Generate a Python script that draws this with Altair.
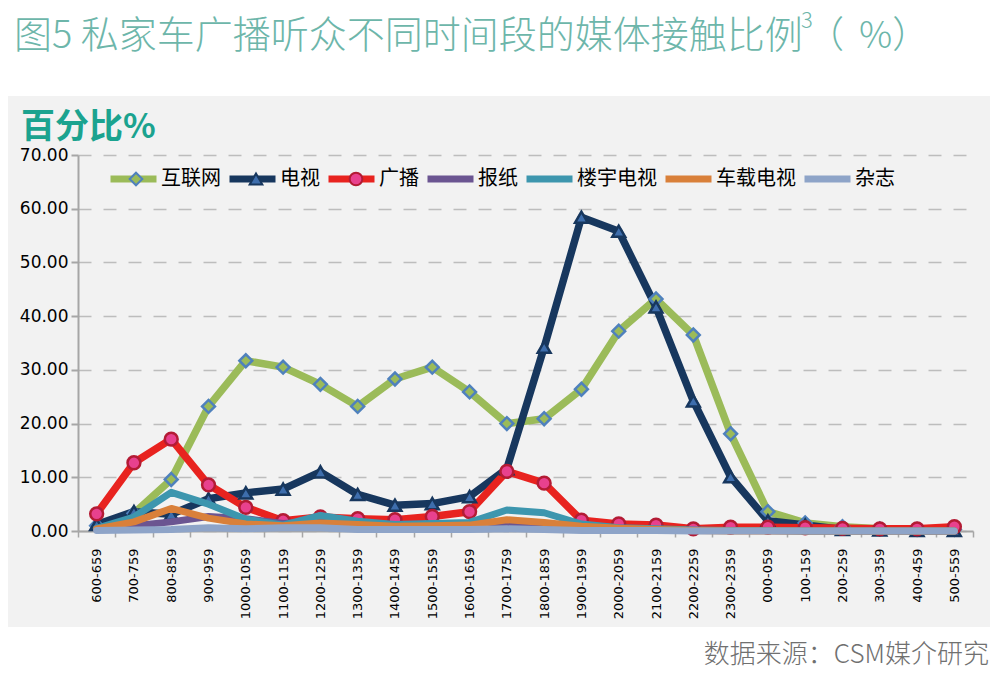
import altair as alt
import pandas as pd

cats = ["600-659", "700-759", "800-859", "900-959", "1000-1059", "1100-1159",
        "1200-1259", "1300-1359", "1400-1459", "1500-1559", "1600-1659",
        "1700-1759", "1800-1859", "1900-1959", "2000-2059", "2100-2159",
        "2200-2259", "2300-2359", "000-059", "100-159", "200-259", "300-359",
        "400-459", "500-559"]

series_names = ["互联网", "电视", "广播", "报纸", "楼宇电视", "车载电视", "杂志"]

internet = [1.0, 3.3, 9.6, 23.2, 31.7, 30.5, 27.3, 23.2, 28.3, 30.5, 25.9, 20.0,
            20.9, 26.4, 37.2, 43.2, 36.5, 18.1, 3.6, 1.5, 0.8, 0.4, 0.3, 0.3]
tv = [1.2, 3.6, 3.1, 6.0, 7.1, 7.8, 11.0, 6.8, 4.8, 5.1, 6.4, 11.6,
      34.2, 58.4, 55.8, 41.7, 24.2, 10.1, 1.9, 1.1, 0.3, 0.2, 0.1, 0.1]
radio = [3.2, 12.7, 17.1, 8.6, 4.4, 1.9, 2.6, 2.3, 2.1, 2.7, 3.6, 11.1,
         8.9, 2.0, 1.3, 1.1, 0.4, 0.7, 0.7, 0.6, 0.5, 0.4, 0.4, 0.8]
newspaper = [0.3, 1.0, 1.7, 2.7, 2.3, 1.4, 1.9, 1.3, 0.9, 0.9, 1.0, 1.3,
             1.0, 0.5, 0.3, 0.2, 0.1, 0.1, 0.1, 0.0, 0.0, 0.0, 0.0, 0.0]
building_tv = [0.5, 2.6, 7.2, 5.0, 2.2, 1.1, 2.9, 1.8, 1.2, 1.4, 1.6, 3.9,
               3.4, 1.3, 0.6, 0.4, 0.2, 0.1, 0.1, 0.0, 0.0, 0.0, 0.0, 0.0]
car_tv = [0.4, 1.7, 4.2, 2.4, 1.3, 1.0, 1.5, 1.2, 0.9, 1.0, 1.1, 2.1,
          1.6, 0.9, 0.5, 0.3, 0.1, 0.0, 0.0, 0.0, 0.0, 0.0, 0.0, 0.0]
magazine = [0.1, 0.2, 0.3, 0.6, 0.4, 0.6, 0.6, 0.3, 0.3, 0.3, 0.3, 0.4,
            0.3, 0.1, 0.1, 0.1, 0.0, 0.0, 0.0, 0.0, 0.0, 0.0, 0.0, 0.0]

line_colors = ["#9BBB59", "#17375E", "#E8231F", "#6B5591", "#3D96AE", "#D9803A", "#8EA4C8"]
marker_shapes = ["diamond", "triangle-up", "circle", "circle", "circle", "circle", "circle"]
marker_fills = ["#9BBB59", "#3E6EAD", "#E8418E", "transparent", "transparent", "transparent", "transparent"]
marker_strokes = ["#4F81BD", "#17375E", "#B31B34", "transparent", "transparent", "transparent", "transparent"]

title_main = "图5 私家车广播听众不同时间段的媒体接触比例"
title_sup = "3"
title_paren_open = "（"
title_rest = "%）"
ylabel_text = "百分比%"
source_text = "数据来源：CSM媒介研究"
y_ticks = [0, 10, 20, 30, 40, 50, 60, 70]

ZW = "\u200b"
all_values = [internet, tv, radio, newspaper, building_tv, car_tv, magazine]
rows = []
for name, vals in zip(series_names, all_values):
    for c, v in zip(cats, vals):
        rows.append({"time": c, "value": v, "series": name, "mk": name + ZW})
df = pd.DataFrame(rows)

W, H = 895, 376

x_enc = alt.X("time:N", sort=cats,
              scale=alt.Scale(type="band", paddingInner=0, paddingOuter=0),
              axis=alt.Axis(title=None, labelAngle=-90, tickBand="extent",
                            labelFont="DejaVu Sans", labelFontSize=13, labelColor="#000000",
                            domainColor="#A6A6A6", domainWidth=2, tickColor="#A6A6A6",
                            tickWidth=1.5, tickSize=6, labelPadding=11, grid=False))
y_enc = alt.Y("value:Q", scale=alt.Scale(domain=[0, 70], nice=False, zero=True),
              axis=alt.Axis(title=None, values=y_ticks, format=".2f",
                            labelFont="DejaVu Sans", labelFontSize=17, labelColor="#000000",
                            domainColor="#A6A6A6", domainWidth=2, tickColor="#A6A6A6",
                            tickWidth=2, tickSize=7, labelPadding=3,
                            grid=True, gridColor="#BDBDBD", gridDash=[13, 12], gridWidth=1.5))

color_legend = alt.Legend(title=None, orient="none", legendX=29, legendY=12,
                          direction="horizontal", symbolType="stroke",
                          symbolSize=2116, symbolStrokeWidth=7, clipHeight=24,
                          labelFont="Noto Sans CJK SC", labelFontSize=20,
                          labelColor="#000000", labelOffset=1, columnPadding=5,
                          padding=0, labelLimit=300, zindex=1)
color_enc = alt.Color("series:N", scale=alt.Scale(domain=series_names, range=line_colors),
                      legend=color_legend)

pdomain = [n + ZW for n in series_names]
point_legend = alt.Legend(title=None, orient="none", legendX=29, legendY=12,
                          direction="horizontal", symbolSize=160, symbolStrokeWidth=2,
                          clipHeight=24, symbolOffset=19,
                          labelFont="Noto Sans CJK SC", labelFontSize=20,
                          labelOpacity=0, labelOffset=16, columnPadding=5,
                          padding=0, labelLimit=300, zindex=2)

base = alt.Chart(df)

lines_a = base.transform_filter(
    alt.FieldOneOfPredicate(field="series", oneOf=series_names[:3])
).mark_line(strokeWidth=7.5, strokeJoin="round", strokeCap="round").encode(
    x=x_enc, y=y_enc, color=color_enc)

points = base.transform_filter(
    alt.FieldOneOfPredicate(field="series", oneOf=series_names[:3])
).mark_point(filled=True, size=165, strokeWidth=2.5, opacity=1).encode(
    x=x_enc, y=y_enc,
    shape=alt.Shape("mk:N", scale=alt.Scale(domain=pdomain, range=marker_shapes), legend=point_legend),
    fill=alt.Fill("mk:N", scale=alt.Scale(domain=pdomain, range=marker_fills), legend=point_legend),
    stroke=alt.Stroke("mk:N", scale=alt.Scale(domain=pdomain, range=marker_strokes), legend=point_legend))

lines_b = base.transform_filter(
    alt.FieldOneOfPredicate(field="series", oneOf=series_names[3:])
).mark_line(strokeWidth=7, strokeJoin="round", strokeCap="round").encode(
    x=x_enc, y=y_enc, color=color_enc)

one = pd.DataFrame({"a": [0]})
white_top = alt.Chart(one).mark_rect(color="#FFFFFF").encode(
    x=alt.value(-70), x2=alt.value(W + 17), y=alt.value(-147), y2=alt.value(-59))
white_bottom = alt.Chart(one).mark_rect(color="#FFFFFF").encode(
    x=alt.value(-70), x2=alt.value(W + 17), y=alt.value(H + 96), y2=alt.value(H + 170))

title_color = "#6DB6AA"


def title_text(txt, x, y, size):
    return alt.Chart(pd.DataFrame({"t": [txt]})).mark_text(
        align="left", baseline="alphabetic", font="Noto Sans CJK SC", fontSize=size,
        fontWeight=300, color=title_color).encode(x=alt.value(x), y=alt.value(y), text="t:N")


t1 = title_text(title_main, -64, -107, 38)
t2 = title_text(title_sup, 723, -127, 22)
t3 = title_text(title_paren_open, 729, -107, 37)
t4 = title_text(title_rest, 781, -107, 37)
ylab = alt.Chart(pd.DataFrame({"t": [ylabel_text]})).mark_text(
    align="left", baseline="alphabetic", font="Noto Sans CJK SC", fontSize=34,
    fontWeight="bold", color="#1BA38F").encode(x=alt.value(-57), y=alt.value(-17), text="t:N")
src = alt.Chart(pd.DataFrame({"t": [source_text]})).mark_text(
    align="right", baseline="alphabetic", font="Noto Sans CJK SC", fontSize=26,
    fontWeight=300, color="#707070").encode(x=alt.value(W + 16), y=alt.value(508), text="t:N")

chart = alt.layer(
    white_top, white_bottom, lines_a, points, lines_b, t1, t2, t3, t4, ylab, src
).resolve_scale(shape="independent", fill="independent", stroke="independent").properties(
    width=W, height=H,
    autosize=alt.AutoSizeParams(type="none"),
    padding={"left": 70, "top": 147, "right": 17, "bottom": 160},
    background="#F2F2F2",
).configure_view(stroke=None)

chart.save("out.html", embed_options={"renderer": "svg", "actions": False})
